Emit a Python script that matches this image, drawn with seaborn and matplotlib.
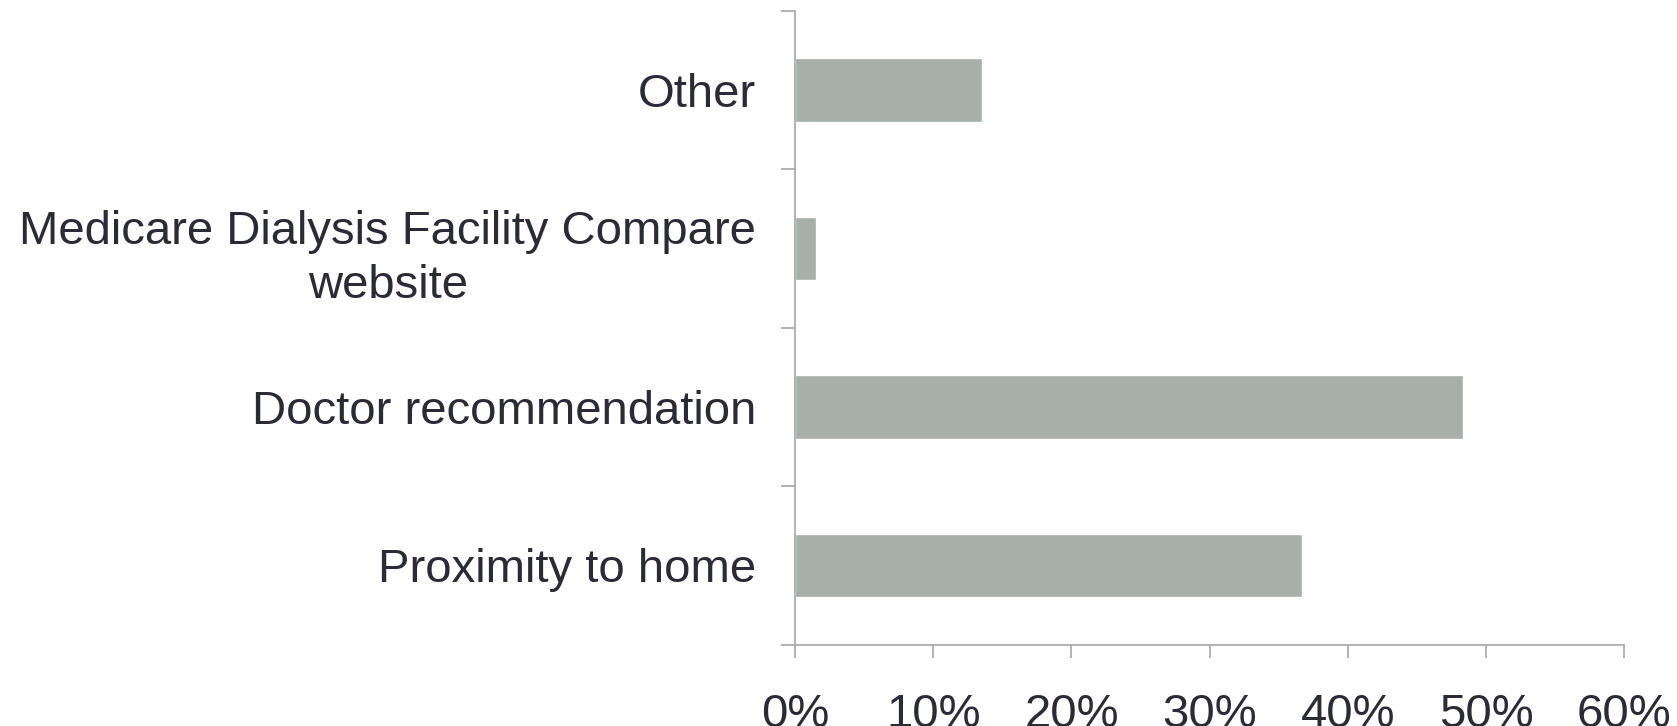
import matplotlib
matplotlib.use("Agg")
import matplotlib.pyplot as plt
import pandas as pd
import seaborn as sns
from matplotlib.ticker import FixedLocator, PercentFormatter

# Reasons for choosing a dialysis facility (share of respondents, %)
categories = [
    "Other",
    "Medicare Dialysis Facility Compare\nwebsite",
    "Doctor recommendation",
    "Proximity to home",
]
shares = [13.5, 1.5, 48.3, 36.7]
x_ticks = [0, 10, 20, 30, 40, 50, 60]

sns.set_theme(style="white")
plt.rcParams["font.family"] = ["Liberation Sans", "DejaVu Sans"]

text_color = "#2b2b36"
axis_color = "#a6a6a6"
bar_color = "#a6afa9"

df = pd.DataFrame({"reason": categories, "share": shares})

fig = plt.figure(figsize=(16.77, 7.26), dpi=100)
ax = fig.add_axes([0.474, 0.112, 0.4946, 0.873])

sns.barplot(data=df, x="share", y="reason", orient="h", color=bar_color,
            width=0.4, saturation=1, ax=ax)

ax.set_xlim(0, 60)
ax.set_ylim(len(categories) - 0.5, -0.5)
ax.set_xlabel("")
ax.set_ylabel("")

ax.xaxis.set_major_locator(FixedLocator(x_ticks))
ax.xaxis.set_major_formatter(PercentFormatter(decimals=0))

# category boundaries carry the tick marks, labels sit on the centres
ax.yaxis.set_minor_locator(FixedLocator([i - 0.5 for i in range(len(categories) + 1)]))
ax.tick_params(axis="y", which="major", length=0, pad=28, labelsize=34,
               labelcolor=text_color)
ax.tick_params(axis="y", which="minor", left=True, length=10, width=1.2,
               color=axis_color)
ax.tick_params(axis="x", which="major", bottom=True, length=9, width=1.2,
               color=axis_color, pad=26, labelsize=34, labelcolor=text_color)

for lbl in ax.get_yticklabels():
    lbl.set_multialignment("center")
    lbl.set_linespacing(1.32)

for side in ("top", "right"):
    ax.spines[side].set_visible(False)
for side in ("left", "bottom"):
    ax.spines[side].set_color(axis_color)
    ax.spines[side].set_linewidth(1.2)

fig.savefig("out.png", dpi=100, facecolor="white")
